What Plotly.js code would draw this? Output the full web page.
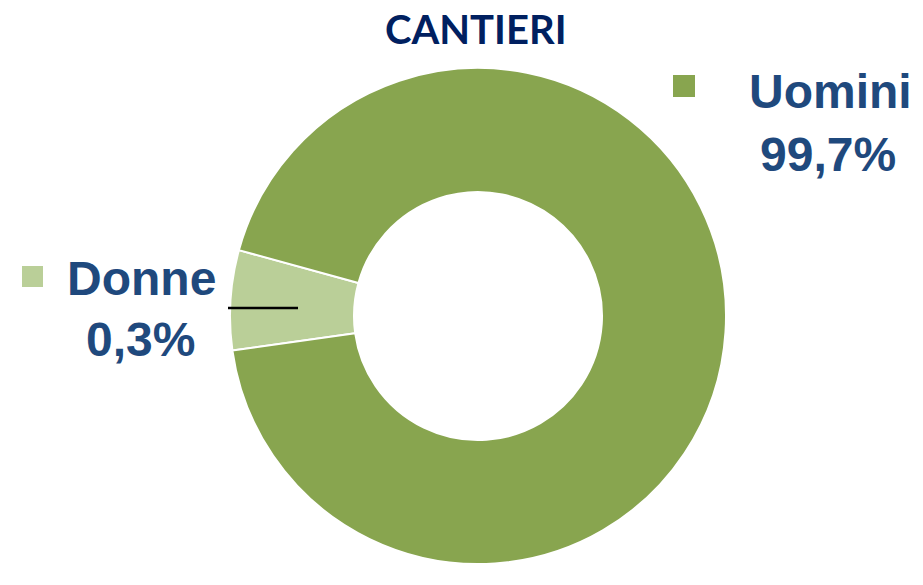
<!DOCTYPE html>
<html>
<head>
<meta charset="utf-8">
<script src="https://cdn.plot.ly/plotly-3.0.1.min.js"></script>
<style>html,body{margin:0;padding:0;background:#fff;}#chart{width:923px;height:585px;}</style>
</head>
<body>
<div id="chart"></div>
<script>
// Data
const categories = ['Donne', 'Uomini'];
const sliceShares = [6.5, 93.5];          // share of the ring as drawn in the picture
const shownPercent = ['0,3%', '99,7%'];   // percentages printed on the labels
const sliceColors = ['#BACF98', '#88A54F'];

const W = 923, H = 585;
const px = x => x / W;
const py = y => 1 - y / H;

const cx = 478, cy = 316, R = 248;

const trace = {
  type: 'pie',
  labels: categories,
  values: sliceShares,
  sort: false,
  direction: 'clockwise',
  rotation: -98,
  hole: 0.5,
  textinfo: 'none',
  hoverinfo: 'label',
  marker: { colors: sliceColors, line: { color: '#ffffff', width: 2 } },
  domain: { x: [px(cx - R), px(cx + R)], y: [py(cy + R), py(cy - R)] },
  showlegend: false
};

const labelFont = { family: 'Liberation Sans, Arial, sans-serif', size: 48, color: '#1F497D', weight: 'bold' };

const annotations = [
  { text: '<b>CANTIERI</b>', x: px(476), y: py(29), xref: 'paper', yref: 'paper', xanchor: 'center', yanchor: 'middle', showarrow: false,
    font: { family: 'Lato, Open Sans, sans-serif', size: 40, color: '#002060' } },
  { text: '<b>' + categories[1] + '</b>', x: px(830), y: py(91), xref: 'paper', yref: 'paper', xanchor: 'center', yanchor: 'middle', showarrow: false, font: labelFont },
  { text: '<b>' + shownPercent[1] + '</b>', x: px(828), y: py(155), xref: 'paper', yref: 'paper', xanchor: 'center', yanchor: 'middle', showarrow: false, font: labelFont },
  { text: '<b>' + categories[0] + '</b>', x: px(141), y: py(278), xref: 'paper', yref: 'paper', xanchor: 'center', yanchor: 'middle', showarrow: false, font: labelFont },
  { text: '<b>' + shownPercent[0] + '</b>', x: px(140), y: py(339), xref: 'paper', yref: 'paper', xanchor: 'center', yanchor: 'middle', showarrow: false, font: labelFont }
];

const shapes = [
  { type: 'rect', xref: 'paper', yref: 'paper', x0: px(673), x1: px(695), y0: py(97), y1: py(75), fillcolor: sliceColors[1], line: { width: 0 } },
  { type: 'rect', xref: 'paper', yref: 'paper', x0: px(22), x1: px(43), y0: py(287), y1: py(266), fillcolor: sliceColors[0], line: { width: 0 } },
  { type: 'line', xref: 'paper', yref: 'paper', x0: px(228), x1: px(298), y0: py(308), y1: py(308), line: { color: '#000000', width: 2.5 } }
];

Plotly.newPlot('chart', [trace], {
  width: W, height: H,
  margin: { l: 0, r: 0, t: 0, b: 0 },
  paper_bgcolor: '#ffffff',
  annotations: annotations,
  shapes: shapes
}, { displayModeBar: false, staticPlot: true });
</script>
</body>
</html>
